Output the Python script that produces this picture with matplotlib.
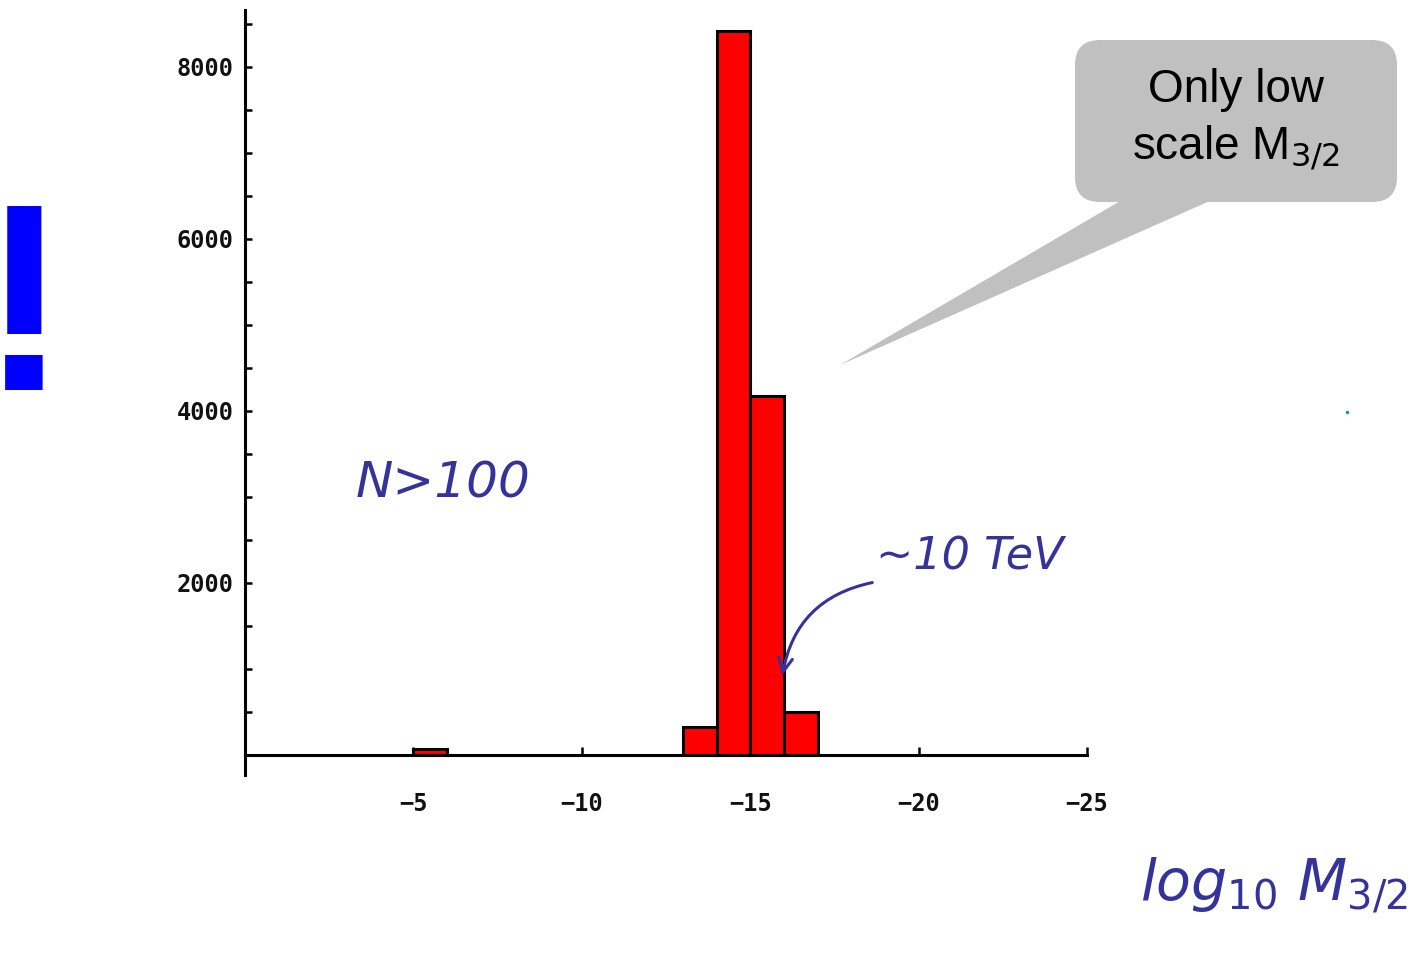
import matplotlib
matplotlib.use('Agg')

import matplotlib.pyplot as plt
from matplotlib.patches import FancyBboxPatch, Polygon
from matplotlib.ticker import MultipleLocator

# histogram of log10 M_3/2 (bins one unit wide, left edge -> count)
bin_edges = [-5, -13, -14, -15, -16]
counts = [70, 330, 8420, 4170, 500]
x_ticks = [-5, -10, -15, -20, -25]
x_labels = ['\u22125', '\u221210', '\u221215', '\u221220', '\u221225']
y_ticks = [2000, 4000, 6000, 8000]

W, H = 1415, 957
fig = plt.figure(figsize=(W / 100, H / 100), dpi=100)

# main histogram axes (axes cross at the origin, x runs to more negative values)
ax = fig.add_axes([245 / W, 1 - 775 / H, (1087 - 245) / W, (775 - 10) / H])
ax.bar(bin_edges, counts, width=-1, align='edge', color='#ff0000',
       edgecolor='black', linewidth=2.2, zorder=3)
ax.set_xlim(0, -25)
ax.set_ylim(-233, 8660)

for side in ('top', 'right'):
    ax.spines[side].set_visible(False)
ax.spines['bottom'].set_position(('data', 0))
ax.spines['bottom'].set_zorder(4)
for side in ('left', 'bottom'):
    ax.spines[side].set_linewidth(2.2)

ax.set_xticks(x_ticks)
ax.set_xticklabels(x_labels)
ax.set_yticks(y_ticks)
ax.yaxis.set_minor_locator(MultipleLocator(500))
ax.tick_params(axis='x', direction='in', length=6, width=1.8, pad=27,
               labelsize=17)
ax.tick_params(axis='y', which='both', direction='in', length=5, width=1.8,
               pad=8, labelsize=17)
for lab in ax.get_xticklabels() + ax.get_yticklabels():
    lab.set_family('DejaVu Sans Mono')
    lab.set_fontweight('bold')
    lab.set_color('#111111')

# overlay in pixel coordinates for the slide annotations
ov = fig.add_axes([0, 0, 1, 1])
ov.set_xlim(0, W)
ov.set_ylim(H, 0)
ov.axis('off')
ov.patch.set_visible(False)

ink = '#33339a'

ov.text(24, 321, '!', color='#0000ff', fontsize=192, fontweight='bold',
        family='Liberation Sans', ha='center', va='center')

ov.text(443, 483, 'N>100', color=ink, fontsize=36, fontstyle='italic',
        ha='center', va='center')
ov.text(970, 557, '~10 TeV', color=ink, fontsize=32, fontstyle='italic',
        ha='center', va='center')
ov.annotate('', xy=(782, 678), xytext=(875, 582),
            arrowprops=dict(arrowstyle='->', color=ink, lw=2.2,
                            connectionstyle='arc3,rad=0.35',
                            mutation_scale=25))
ov.text(1274, 885, r'$\mathit{log}_{10}\ \mathit{M}_{3/2}$', color=ink,
        fontsize=41, ha='center', va='center')

# speech-bubble callout
ov.add_patch(Polygon([(1122, 200), (1212, 200), (840, 365)], closed=True,
                     facecolor='#c0c0c0', edgecolor='none'))
ov.add_patch(FancyBboxPatch((1075, 40), 322, 162,
                            boxstyle='round,pad=0,rounding_size=25',
                            facecolor='#c0c0c0', edgecolor='none'))
ov.text(1236, 90, 'Only low', fontsize=33, family='Liberation Sans',
        ha='center', va='center')
ov.text(1236, 148, r'scale M$_{3/2}$', fontsize=33, family='Liberation Sans',
        ha='center', va='center')
ov.plot([1347], [412], marker='.', markersize=3, color='#00a0a0')

fig.savefig('out.png', dpi=100)
plt.close(fig)
